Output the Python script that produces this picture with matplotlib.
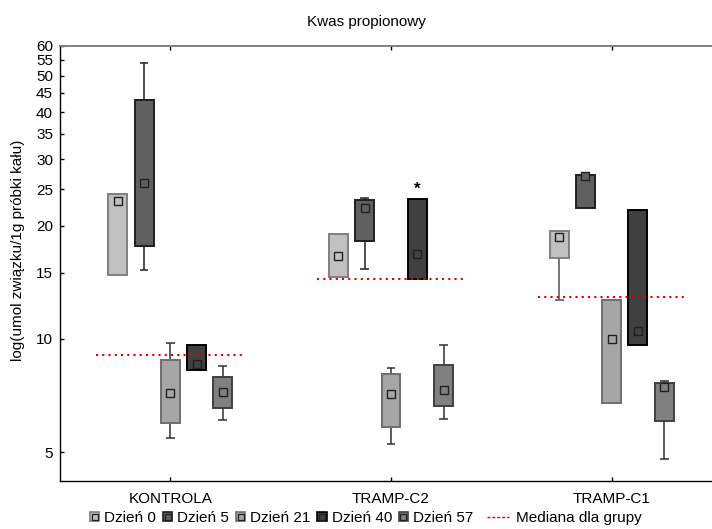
import numpy as np
import matplotlib
matplotlib.use("Agg")
import matplotlib.pyplot as plt
from matplotlib.patches import Rectangle
from matplotlib.lines import Line2D
from matplotlib.legend_handler import HandlerTuple
from matplotlib.ticker import FixedLocator, FixedFormatter, NullLocator

plt.rcParams['font.family'] = ['Liberation Sans', 'DejaVu Sans']
plt.rcParams['font.size'] = 11

title = "Kwas propionowy"
ylabel = "log(umol związku/1g próbki kału)"
groups = ["KONTROLA", "TRAMP-C2", "TRAMP-C1"]
days = ["Dzień 0", "Dzień 5", "Dzień 21", "Dzień 40", "Dzień 57"]
median_label = "Mediana dla grupy"
yticks = [5, 10, 15, 20, 25, 30, 35, 40, 45, 50, 55, 60]

# rows = groups, columns = days
box_lo = [[14.8, 17.6, 6.00, 8.28, 6.57],
          [14.6, 18.2, 5.84, 14.4, 6.65],
          [16.4, 22.2, 6.77, 9.65, 6.07]]
box_hi = [[24.2, 43.0, 8.81, 9.65, 7.94],
          [19.0, 23.4, 8.09, 23.5, 8.54],
          [19.4, 27.2, 12.7, 22.0, 7.65]]
center = [[23.3, 26.0, 7.20, 8.60, 7.25],
          [16.6, 22.2, 7.13, 16.8, 7.33],
          [18.7, 27.0, 9.99, 10.5, 7.45]]
whisk_lo = [[np.nan, 15.2, 5.46, np.nan, 6.09],
            [np.nan, 15.3, 5.25, np.nan, 6.13],
            [12.7, np.nan, np.nan, np.nan, 4.81]]
whisk_hi = [[np.nan, 54.0, 9.77, np.nan, 8.50],
            [np.nan, 23.6, 8.36, np.nan, 9.65],
            [np.nan, np.nan, np.nan, np.nan, 7.76]]
group_median = [9.08, 14.4, 12.9]
star_marks = [(1, 3)]  # (group index, day index)

fills = ['#c0c0c0', '#606060', '#a6a6a6', '#404040', '#808080']
edges = ['#808080', '#202020', '#6e6e6e', '#000000', '#404040']
whisk_colors = ['#505050', '#202020', '#303030', '#000000', '#303030']

fig = plt.figure(figsize=(7.12, 5.29), dpi=100)
ax = fig.add_axes([60 / 712, 48 / 529, 662 / 712, 435.3 / 529])

xs = np.arange(1, len(groups) + 1)
step = 0.119
width = 0.086
cap = 0.02

for g in range(len(groups)):
    for d in range(len(days)):
        x = xs[g] + (d - 2) * step
        lo, hi = box_lo[g][d], box_hi[g][d]
        wl, wh = whisk_lo[g][d], whisk_hi[g][d]
        if not np.isnan(wl):
            ax.vlines(x, wl, lo, color=whisk_colors[d], lw=1.1, zorder=2)
            ax.hlines(wl, x - cap, x + cap, color=whisk_colors[d], lw=1.1, zorder=2)
        if not np.isnan(wh):
            ax.vlines(x, hi, wh, color=whisk_colors[d], lw=1.1, zorder=2)
            ax.hlines(wh, x - cap, x + cap, color=whisk_colors[d], lw=1.1, zorder=2)
        ax.bar(x, hi - lo, bottom=lo, width=width, color=fills[d],
               edgecolor=edges[d], linewidth=1.4, zorder=3)
        ax.plot(x, center[g][d], marker='s', ms=6.2, mfc=fills[d],
                mec='#202020', mew=1.0, zorder=4)
    ax.hlines(group_median[g], xs[g] - 0.335, xs[g] + 0.345, color='#e00000',
              lw=1.5, linestyles=(0, (1, 2)), zorder=5)

for g, d in star_marks:
    x = xs[g] + (d - 2) * step
    ax.annotate('*', (x, box_hi[g][d]), xytext=(0, 2), textcoords='offset points',
                ha='center', va='bottom', fontsize=12, fontweight='bold')

ax.set_yscale('log')
ax.set_ylim(4.2, 60)
ax.set_xlim(0.5, 3.5)
ax.yaxis.set_major_locator(FixedLocator(yticks))
ax.yaxis.set_major_formatter(FixedFormatter([str(t) for t in yticks]))
ax.yaxis.set_minor_locator(NullLocator())
ax.set_xticks(xs)
ax.set_xticklabels(groups)
ax.tick_params(axis='x', direction='in', length=3, width=1, top=True, pad=8)
ax.tick_params(axis='y', direction='in', length=3, width=1, pad=5)
ax.tick_params(labelsize=11)

ax.spines['right'].set_visible(False)
ax.spines['top'].set_color('#808080')
ax.spines['top'].set_linewidth(1.4)
for s in ('left', 'bottom'):
    ax.spines[s].set_linewidth(1.0)

ax.set_ylabel(ylabel, fontsize=11)
ax.yaxis.set_label_coords(-0.053, 0.53)
fig.text(366 / 712, 1 - 22 / 529, title, ha='center', va='center', fontsize=11)

# legend: box colours for each day, then the dashed group-median line
day_handles = []
for d in range(len(days)):
    patch = Rectangle((0, 0), 1, 1, facecolor=fills[d], edgecolor=edges[d], lw=1.2)
    mark = Line2D([], [], ls='none', marker='s', ms=4.0, mfc=fills[d], mec='#202020', mew=0.9)
    day_handles.append((patch, mark))
leg_y = 11 / 529
leg1 = fig.legend(day_handles, days, loc='center left', bbox_to_anchor=(90 / 712, leg_y),
                  ncol=5, frameon=False, handlelength=0.6, handleheight=0.6,
                  handletextpad=0.33, columnspacing=0.45, borderpad=0, borderaxespad=0,
                  fontsize=11, handler_map={tuple: HandlerTuple(ndivide=1)})
med_handle = Line2D([], [], color='red', lw=1.0, ls=(0, (2.2, 1.3)))
fig.legend([med_handle], [median_label], loc='center left',
           bbox_to_anchor=(487 / 712, leg_y), frameon=False, handlelength=1.45,
           handletextpad=0.45, borderpad=0, borderaxespad=0, fontsize=11)

fig.savefig('out.png', dpi=100)
